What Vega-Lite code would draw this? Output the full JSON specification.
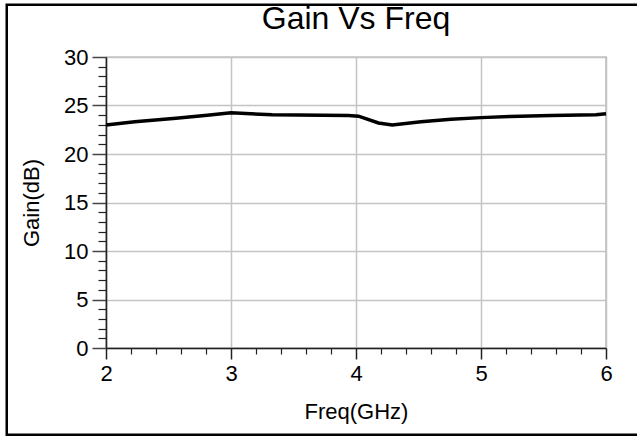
{
  "$schema": "https://vega.github.io/schema/vega-lite/v6.json",
  "width": 500,
  "height": 291,
  "autosize": {"type": "none"},
  "padding": {"left": 106, "top": 57, "right": 31, "bottom": 88},
  "background": "white",
  "title": {
    "text": "Gain Vs Freq",
    "font": "Liberation Sans",
    "fontSize": 32,
    "fontWeight": "normal",
    "color": "black",
    "anchor": "middle",
    "frame": "group",
    "baseline": "alphabetic",
    "offset": -58
  },
  "config": {
    "view": {"stroke": "#555555", "strokeWidth": 1.2},
    "axis": {"labelFont": "Liberation Sans", "titleFont": "Liberation Sans"}
  },
  "datasets": {
    "gain": [
      {"freq": 2.0, "gain": 23.0},
      {"freq": 2.23, "gain": 23.33},
      {"freq": 2.56, "gain": 23.68},
      {"freq": 2.81, "gain": 24.0},
      {"freq": 3.0, "gain": 24.25},
      {"freq": 3.33, "gain": 24.04},
      {"freq": 3.94, "gain": 23.97},
      {"freq": 4.02, "gain": 23.9},
      {"freq": 4.18, "gain": 23.2},
      {"freq": 4.29, "gain": 23.0},
      {"freq": 4.52, "gain": 23.33},
      {"freq": 4.76, "gain": 23.58},
      {"freq": 5.0, "gain": 23.75},
      {"freq": 5.23, "gain": 23.86},
      {"freq": 5.56, "gain": 23.97},
      {"freq": 5.92, "gain": 24.04},
      {"freq": 6.0, "gain": 24.15}
    ]
  },
  "resolve": {"axis": {"x": "independent", "y": "independent"}},
  "layer": [
    {
      "data": {"values": [{}]},
      "mark": {"type": "rect", "fill": null, "stroke": "black", "strokeWidth": 2.5, "clip": false},
      "encoding": {
        "x": {"datum": 1.206, "type": "quantitative", "axis": null},
        "x2": {"datum": 6.35},
        "y": {"datum": 35.39, "type": "quantitative", "axis": null},
        "y2": {"datum": -8.94}
      }
    },
    {
      "data": {"name": "gain"},
      "mark": {"type": "line", "opacity": 0},
      "encoding": {
        "x": {
          "field": "freq",
          "type": "quantitative",
          "axis": {
            "orient": "bottom",
            "values": [2.2, 2.4, 2.6, 2.8, 3.2, 3.4, 3.6, 3.8, 4.2, 4.4, 4.6, 4.8, 5.2, 5.4, 5.6, 5.8],
            "grid": false,
            "labels": false,
            "domain": false,
            "ticks": true,
            "tickSize": 6,
            "tickColor": "#222222",
            "tickWidth": 1.2,
            "title": null
          }
        },
        "y": {
          "field": "gain",
          "type": "quantitative",
          "axis": {
            "orient": "left",
            "values": [1, 2, 3, 4, 6, 7, 8, 9, 11, 12, 13, 14, 16, 17, 18, 19, 21, 22, 23, 24, 26, 27, 28, 29],
            "grid": false,
            "labels": false,
            "domain": false,
            "ticks": true,
            "tickSize": 8,
            "tickColor": "#222222",
            "tickWidth": 1.2,
            "title": null
          }
        }
      }
    },
    {
      "data": {"name": "gain"},
      "mark": {"type": "line", "color": "black", "strokeWidth": 3.5, "interpolate": "linear"},
      "encoding": {
        "x": {
          "field": "freq",
          "type": "quantitative",
          "scale": {"domain": [2, 6], "nice": false, "zero": false},
          "axis": {
            "orient": "bottom",
            "values": [2, 3, 4, 5, 6],
            "format": "d",
            "grid": true,
            "gridColor": "#c4c4c4",
            "gridWidth": 1.5,
            "domain": true,
            "domainColor": "#222222",
            "domainWidth": 1.5,
            "ticks": true,
            "tickSize": 11,
            "tickColor": "#222222",
            "tickWidth": 1.5,
            "labelFontSize": 22,
            "labelColor": "black",
            "labelPadding": 4,
            "labelFlush": false,
            "labelOverlap": false,
            "labelBound": false,
            "title": "Freq(GHz)",
            "titleFontSize": 22,
            "titleFontWeight": "normal",
            "titleColor": "black",
            "titlePadding": 17
          }
        },
        "y": {
          "field": "gain",
          "type": "quantitative",
          "scale": {"domain": [0, 30], "nice": false, "zero": false},
          "axis": {
            "orient": "left",
            "values": [0, 5, 10, 15, 20, 25, 30],
            "grid": true,
            "gridColor": "#c4c4c4",
            "gridWidth": 1.5,
            "domain": true,
            "domainColor": "#222222",
            "domainWidth": 1.5,
            "ticks": true,
            "tickSize": 14,
            "tickColor": "#444444",
            "tickWidth": 1.5,
            "labelFontSize": 22,
            "labelColor": "black",
            "labelPadding": 4,
            "labelFlush": false,
            "labelOverlap": false,
            "labelBound": false,
            "title": "Gain(dB)",
            "titleFontSize": 22,
            "titleFontWeight": "normal",
            "titleColor": "black",
            "titlePadding": 20
          }
        }
      }
    }
  ]
}
